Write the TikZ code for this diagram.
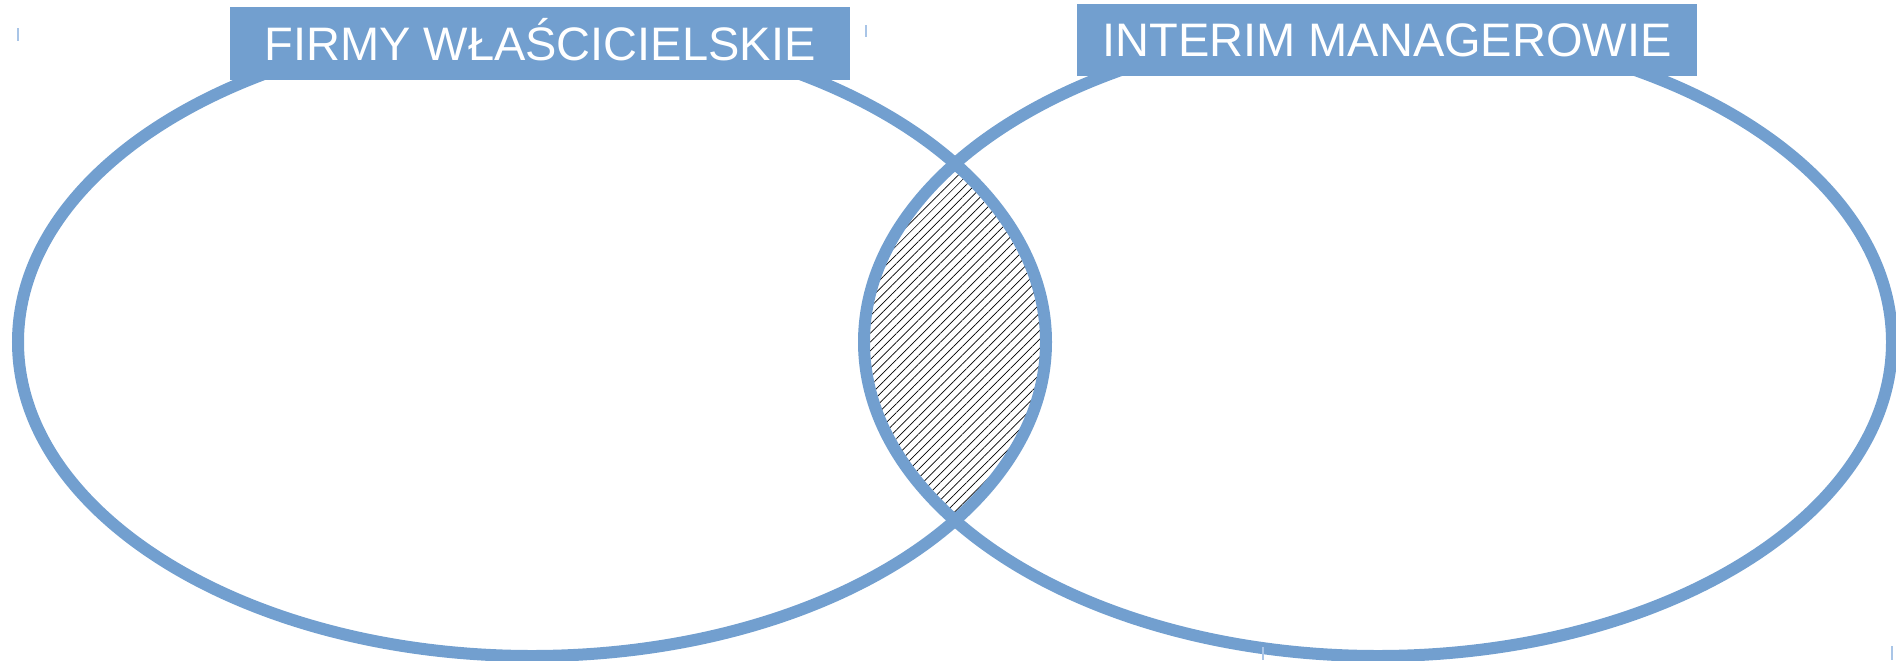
\documentclass[tikz,border=0pt]{standalone}
\usepackage{fontspec}
\setmainfont{Liberation Sans}
\usetikzlibrary{patterns.meta}

\definecolor{vennblue}{HTML}{729FCF}
\definecolor{tickblue}{HTML}{A9C5E7}

\tikzset{
  venn/.style={draw=vennblue, line width=6pt},
  setlabel/.style={fill=vennblue, text=white, inner sep=0pt,
    minimum width=310pt, minimum height=36.5pt,
    text height=16.5pt, text depth=0pt,
    font=\fontsize{23.5}{24}\selectfont},
  handle/.style={draw=tickblue, line width=0.9pt}
}

\begin{document}
\begin{tikzpicture}[x=0.5pt, y=-0.5pt]
		\useasboundingbox (0, 0) rectangle (1896, 660);
		
		% common part of both sets
		\begin{scope}
			\clip (532, 342) ellipse [x radius=514, y radius=314];
			\fill[pattern={Lines[angle=45, distance=3.1pt, line width=0.35pt]}]
				(1378, 342) ellipse [x radius=514, y radius=314];
		\end{scope}
		
		\draw[venn] (532, 342) ellipse [x radius=514, y radius=314];    % left set
		\draw[venn] (1378, 342) ellipse [x radius=514, y radius=314];   % right set
		
		\node[setlabel] (firmy) at (540, 43.5) {FIRMY WŁAŚCICIELSKIE};
		\node[setlabel, minimum height=36pt] (interim) at (1387, 40) {INTERIM MANAGEROWIE};
		
		% small marks at the corners
		\draw[handle] (18, 28) -- (18, 41);
		\draw[handle] (866, 25) -- (866, 37);
		\draw[handle] (1263, 647) -- (1263, 660);
		\draw[handle] (1892, 646) -- (1892, 660);
	\end{tikzpicture}
\end{document}
